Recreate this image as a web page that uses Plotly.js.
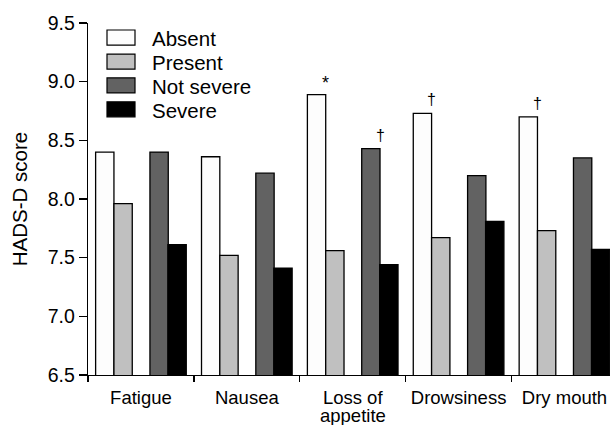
<!DOCTYPE html>
<html>
<head>
<meta charset="utf-8">
<script src="https://cdn.plot.ly/plotly-3.0.1.min.js"></script>
<style>html,body{margin:0;padding:0;background:#fff;}#chart{width:610px;height:425px;}</style>
</head>
<body>
<div id="chart"></div>
<script>
// ---- data ----
const categories = ["Fatigue", "Nausea", "Loss of<br>appetite", "Drowsiness", "Dry mouth"];
const seriesNames = ["Absent", "Present", "Not severe", "Severe"];
const absent    = [8.40, 8.36, 8.89, 8.73, 8.70];
const present   = [7.96, 7.52, 7.56, 7.67, 7.73];
const notSevere = [8.40, 8.22, 8.43, 8.20, 8.35];
const severe    = [7.61, 7.41, 7.44, 7.81, 7.57];
const yTicks = [6.5, 7.0, 7.5, 8.0, 8.5, 9.0, 9.5];
// significance marks: [series index, category index, symbol]
const marks = [[0, 2, "*"], [2, 2, "\u2020"], [0, 3, "\u2020"], [0, 4, "\u2020"]];

// ---- style ----
const fills = ["#fdfdfd", "#c0c0c0", "#626262", "#000000"];
const values = [absent, present, notSevere, severe];
const barW = 0.173;
const offsets = [-0.428, -0.255, 0.085, 0.255];
const FONT = "Liberation Sans, Arial, sans-serif";
const CAT_SIZE = 18.5;

const traces = values.map((v, i) => ({
  type: "bar",
  x: categories,
  y: v,
  name: seriesNames[i],
  width: barW,
  offset: offsets[i],
  marker: {color: fills[i], line: {color: "#000", width: 1.3}},
  showlegend: false,
  hoverinfo: "skip",
  cliponaxis: true
}));

const L = 88, T = 23, W = 522, H = 351.6;
const px2x = p => (p - L) / W;
const py2y = p => 1 - (p - T) / H;

const shapes = [];
const annotations = [];
const rowY = [37.5, 61.5, 85.3, 109.2];
seriesNames.forEach((n, i) => {
  shapes.push({type: "rect", xref: "paper", yref: "paper",
    x0: px2x(107), x1: px2x(135), y0: py2y(rowY[i] - 7.5), y1: py2y(rowY[i] + 7.5),
    fillcolor: fills[i], line: {color: "#000", width: 1.2}});
  annotations.push({xref: "paper", yref: "paper", x: px2x(150), y: py2y(rowY[i] + 1),
    xanchor: "left", yanchor: "middle", text: n, showarrow: false,
    font: {family: FONT, size: 20.5, color: "#000"}});
});
marks.forEach(([s, c, sym]) => {
  annotations.push({xref: "x", yref: "y", x: c + offsets[s] + barW, y: values[s][c],
    xanchor: "center", yanchor: "bottom", yshift: sym === "*" ? 0 : 3, text: sym, showarrow: false,
    font: {family: FONT, size: sym === "*" ? 18 : 16, color: "#000"}});
});
// category labels: first line as tick label, further lines as tighter-spaced text below
const tickText = categories.map(c => c.split("<br>")[0]);
categories.forEach((c, i) => {
  const rest = c.split("<br>").slice(1);
  rest.forEach((line, k) => {
    annotations.push({xref: "x", yref: "paper", x: i, y: py2y(415.5 + k * 19),
      xanchor: "center", yanchor: "middle", text: line, showarrow: false,
      font: {family: FONT, size: CAT_SIZE, color: "#000"}});
  });
});

const layout = {
  width: 610, height: 425,
  margin: {l: L, r: 0, t: T, b: 425 - T - H, pad: 0},
  paper_bgcolor: "#fff", plot_bgcolor: "#fff",
  font: {family: FONT, size: 18, color: "#000"},
  showlegend: false,
  xaxis: {
    type: "category", range: [-0.5, 4.43],
    tickvals: categories, ticktext: tickText,
    showline: true, linecolor: "#000", linewidth: 1.3,
    ticks: "outside", tickson: "boundaries", ticklen: 6, tickwidth: 1.3, tickcolor: "#000",
    ticklabelstandoff: 5,
    showgrid: false, zeroline: false, fixedrange: true,
    tickfont: {family: FONT, size: CAT_SIZE, color: "#000"}
  },
  yaxis: {
    range: [6.5, 9.5],
    tickvals: yTicks, ticktext: yTicks.map(v => v.toFixed(1)),
    showline: true, linecolor: "#000", linewidth: 1.3,
    ticks: "outside", ticklen: 8, tickwidth: 1.3, tickcolor: "#000",
    showgrid: false, zeroline: false, fixedrange: true,
    tickfont: {family: FONT, size: 19.5, color: "#000"},
    title: {text: "HADS-D score", font: {family: FONT, size: 20.5, color: "#000"}, standoff: 14}
  },
  shapes: shapes,
  annotations: annotations
};

Plotly.newPlot("chart", traces, layout, {displayModeBar: false, staticPlot: true});
</script>
</body>
</html>
